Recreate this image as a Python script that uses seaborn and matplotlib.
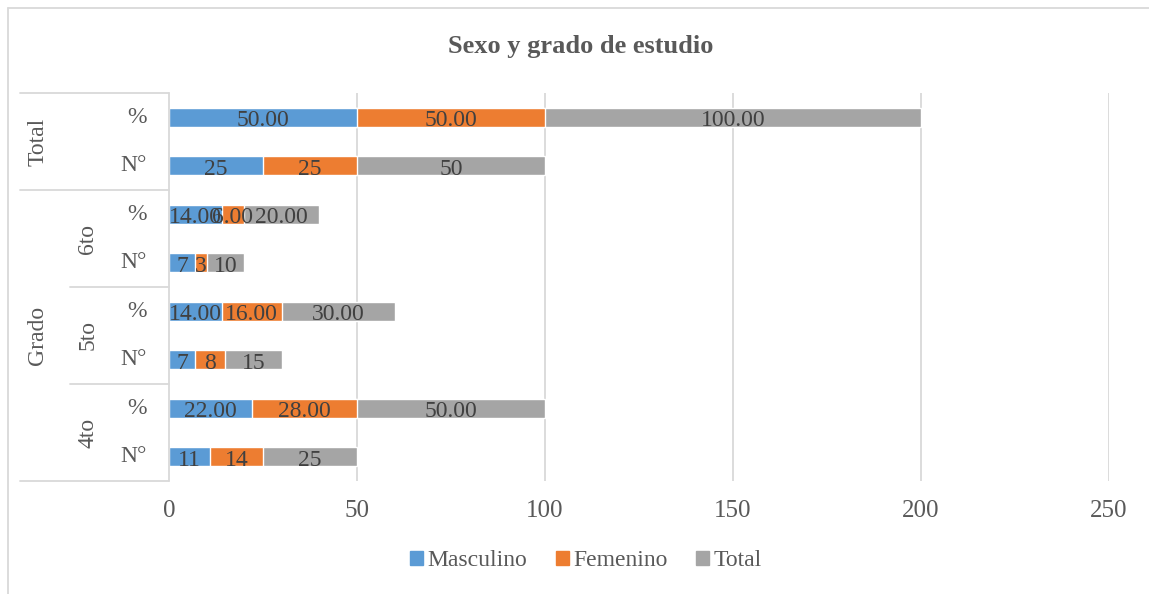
import pandas as pd
import matplotlib.pyplot as plt
import seaborn as sns
import matplotlib.transforms as mtransforms
from matplotlib.lines import Line2D
from matplotlib.patches import Patch

# datos (de arriba hacia abajo)
grupo = ["Total", "Total", "Grado", "Grado", "Grado", "Grado", "Grado", "Grado"]
grado = ["", "", "6to", "6to", "5to", "5to", "4to", "4to"]
medida = ["%", "N°", "%", "N°", "%", "N°", "%", "N°"]
masculino = [50, 25, 14, 7, 14, 7, 22, 11]
femenino = [50, 25, 6, 3, 16, 8, 28, 14]
total = [100, 50, 20, 10, 30, 15, 50, 25]
x_ticks = [0, 50, 100, 150, 200, 250]

c_masc, c_fem, c_tot = "#5B9BD5", "#ED7D31", "#A5A5A5"
txt = "#595959"
lab = "#404040"
grid = "#D9D9D9"

df = pd.DataFrame({"grupo": grupo, "grado": grado, "medida": medida,
                   "Masculino": masculino, "Femenino": femenino, "Total": total})
df["fila"] = df["grupo"] + "|" + df["grado"] + "|" + df["medida"]
df["c1"] = df["Masculino"]
df["c2"] = df["Masculino"] + df["Femenino"]
df["c3"] = df["c2"] + df["Total"]
orden = list(df["fila"])

sns.set_theme(style="white")
plt.rcParams["font.family"] = ["Liberation Serif", "DejaVu Serif"]

fig = plt.figure(figsize=(11.49, 5.94), dpi=100)
ax = fig.add_axes([169 / 1149, 1 - 481 / 594, 940 / 1149, 388 / 594])

# barras apiladas: se dibuja el acumulado de mayor a menor
for col, color in [("c3", c_tot), ("c2", c_fem), ("c1", c_masc)]:
    sns.barplot(data=df, x=col, y="fila", order=orden, color=color, saturation=1,
                width=0.4, errorbar=None, orient="h", ax=ax)

# etiquetas de datos
for i, r in df.iterrows():
    fmt = "{:.2f}" if r["medida"] == "%" else "{:d}"
    segs = [(0, r["Masculino"]), (r["c1"], r["Femenino"]), (r["c2"], r["Total"])]
    for start, val in segs:
        ax.text(start + val / 2, i + 0.19, fmt.format(val), ha="center", va="baseline",
                fontsize=17, color=lab)

ax.set_xlim(0, 250)
ax.set_ylim(7.5, -0.5)
ax.set_xticks(x_ticks)
ax.set_xticklabels([str(t) for t in x_ticks], fontsize=18, color=txt)
ax.tick_params(axis="x", length=0, pad=14)
ax.set_yticks([])
ax.set_xlabel("")
ax.set_ylabel("")
for s in ax.spines.values():
    s.set_visible(False)
for t in x_ticks[1:]:
    ax.axvline(t, color=grid, lw=1.3, zorder=0)

# eje de categorías multinivel
tr = mtransforms.blended_transform_factory(ax.transAxes, ax.transData)
x_in = (70 - 169) / 940
x_out = (20 - 169) / 940
ax.add_line(Line2D([0, 0], [-0.5, 7.5], transform=tr, color=grid, lw=1.3, clip_on=False))
for y, x0 in [(-0.5, x_out), (1.5, x_out), (3.5, x_in), (5.5, x_in), (7.5, x_out)]:
    ax.add_line(Line2D([x0, 0], [y, y], transform=tr, color=grid, lw=1.3, clip_on=False))

for i, m in enumerate(medida):
    ax.text((147 - 169) / 940, i, m, transform=tr, ha="right", va="center",
            fontsize=17, color=txt)

for nombre in ["6to", "5to", "4to"]:
    idx = [i for i, g in enumerate(grado) if g == nombre]
    ax.text((88 - 169) / 940, sum(idx) / len(idx), nombre, transform=tr, rotation=90,
            ha="center", va="center", fontsize=17, color=txt)

for nombre in ["Total", "Grado"]:
    idx = [i for i, g in enumerate(grupo) if g == nombre]
    ax.text((38 - 169) / 940, sum(idx) / len(idx), nombre, transform=tr, rotation=90,
            ha="center", va="center", fontsize=17, color=txt)

# borde del gráfico
fig.add_artist(Line2D([8 / 1149, 8 / 1149], [0, 1 - 8 / 594], transform=fig.transFigure,
                      color=grid, lw=1.3))
fig.add_artist(Line2D([8 / 1149, 1], [1 - 8 / 594, 1 - 8 / 594], transform=fig.transFigure,
                      color=grid, lw=1.3))

fig.text(581 / 1149, 1 - 47 / 594, "Sexo y grado de estudio", ha="center", va="center",
         fontsize=19, fontweight="bold", color=txt)

handles = [Patch(color=c_masc, label="Masculino"), Patch(color=c_fem, label="Femenino"),
           Patch(color=c_tot, label="Total")]
leg = fig.legend(handles=handles, loc="center", bbox_to_anchor=(586 / 1149, 1 - 561 / 594),
                 ncol=3, frameon=False, fontsize=17, handlelength=0.55, handleheight=0.55,
                 handletextpad=0.2, columnspacing=1.2)
for t in leg.get_texts():
    t.set_color(txt)

fig.savefig("out.png", dpi=100)
